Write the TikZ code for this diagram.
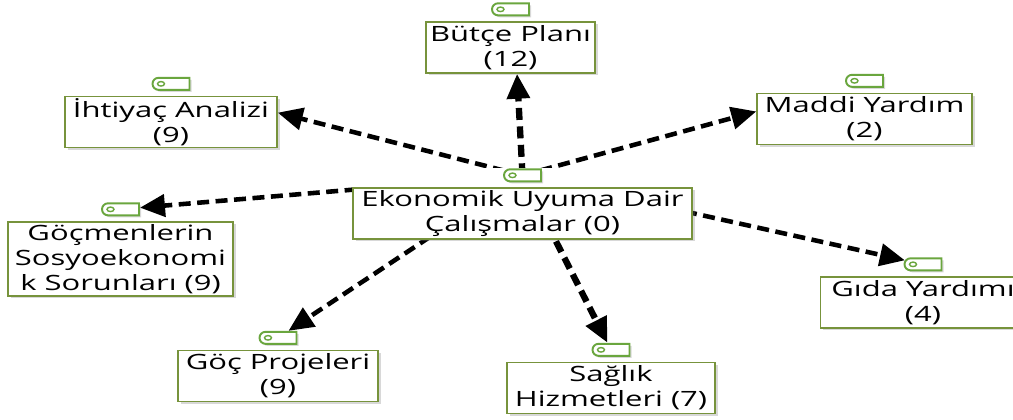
\documentclass[tikz,border=0pt]{standalone}
\usepackage{fontspec}
\setmainfont{Open Sans}[FakeStretch=1.47]
\usetikzlibrary{positioning,arrows.meta,shapes.misc,shadows,backgrounds}
\definecolor{boxgreen}{RGB}{119,147,60}
\definecolor{taggreen}{RGB}{106,166,62}

\begin{document}
\begin{tikzpicture} [>={Triangle[length=0.5cm,width=0.44cm]},
		code/.style={draw=boxgreen, line width=0.8pt, fill=white, align=center, inner sep=0pt, minimum height=1.02cm, font=\fontsize{12}{14.2}\selectfont, drop shadow={shadow xshift=0.05cm, shadow yshift=-0.05cm, opacity=0.3}},
		codetag/.style={rounded rectangle, rounded rectangle east arc=none, draw=taggreen, line width=1.1pt, fill=white, minimum width=0.74cm, minimum height=0.24cm, inner sep=0pt, drop shadow={shadow xshift=0.04cm, shadow yshift=-0.04cm, opacity=0.3},
			path picture={\draw[taggreen, line width=0.8pt] ([xshift=0.17cm]path picture bounding box.west) ellipse (0.07cm and 0.045cm);}},
		link/.style={->, dash pattern=on 0.24cm off 0.13cm, line width=2.6pt},
		linkv/.style={link, line width=3.6pt}]
		\useasboundingbox (0,0) rectangle (20.26,8.4);
		\node[code, minimum width=6.78cm] (ekon) at (10.45,4.13) {Ekonomik Uyuma Dair\\Çalışmalar (0)};
		\node[code, minimum width=3.38cm] (butce) at (10.21,7.45) {Bütçe Planı\\(12)};
		\node[code, minimum width=4.24cm] (ihtiyac) at (3.42,5.96) {İhtiyaç Analizi\\(9)};
		\node[code, minimum width=4.3cm] (maddi) at (17.29,6.02) {Maddi Yardım\\(2)};
		\node[code, minimum width=4.5cm, minimum height=1.48cm] (gocmen) at (2.41,3.22) {Göçmenlerin\\Sosyoekonomi\\k Sorunları (9)};
		\node[code, minimum width=4.1cm] (gida) at (18.46,2.35) {Gıda Yardımı\\(4)};
		\node[code, minimum width=4.0cm] (projeler) at (5.56,0.88) {Göç Projeleri\\(9)};
		\node[code, minimum width=4.16cm] (saglik) at (12.22,0.64) {Sağlık\\Hizmetleri (7)};
		\node[codetag, above=0.1cm of ekon] (ekontag) {};
		\node[codetag, above=0.1cm of butce] (butcetag) {};
		\node[codetag, above=0.1cm of ihtiyac] (ihtiyactag) {};
		\node[codetag, above=0.1cm of maddi] (madditag) {};
		\node[codetag, above=0.1cm of gocmen] (gocmentag) {};
		\node[codetag, above=0.1cm of gida] (gidatag) {};
		\node[codetag, above=0.1cm of projeler] (projelertag) {};
		\node[codetag, above=0.1cm of saglik] (sagliktag) {};
		\begin{scope}[on background layer]
		\fill[white] (0,0) rectangle (20.26,8.4);
		\draw[linkv] (ekontag.center) -- (butce.-76);
		\draw[link] (ekontag.center) -- (ihtiyac.5);
		\draw[link] (ekontag.center) -- (maddi.176);
		\draw[link] (ekontag.center) -- (gocmentag);
		\draw[link] (ekontag.center) -- (gidatag);
		\draw[link] (ekontag.center) -- (projelertag);
		\draw[linkv] (ekontag.center) -- (sagliktag);
		\fill[white] (ekon.south west) rectangle (ekon.north east |- ekontag.north);
		\end{scope}
\end{tikzpicture}
\end{document}
